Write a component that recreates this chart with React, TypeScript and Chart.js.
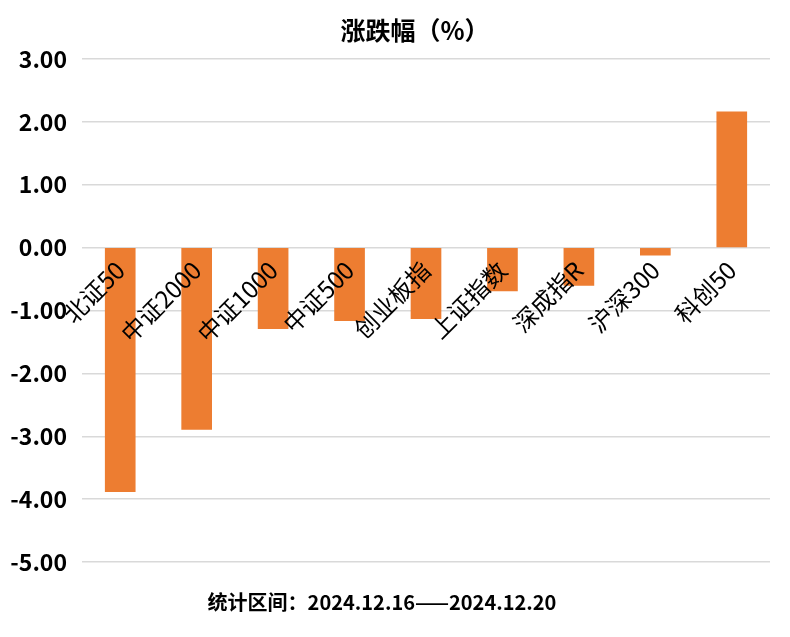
import React, { useEffect, useRef } from "react";
import { Chart, registerables } from "chart.js";

Chart.register(...registerables);

const categories = ["北证50", "中证2000", "中证1000", "中证500", "创业板指", "上证指数", "深成指R", "沪深300", "科创50"];
const changes = [-3.88, -2.89, -1.29, -1.16, -1.13, -0.69, -0.6, -0.12, 2.16];
const yMin = -5;
const yMax = 3;
const yStep = 1;
const titleText = "涨跌幅（%）";
const footnoteText = "统计区间：2024.12.16——2024.12.20";

const CJK_FONT = "'Noto Sans CJK SC', sans-serif";

const textPlugin = {
  id: "textPlugin",
  afterDraw(chart: any) {
    const ctx = chart.ctx;
    ctx.save();
    ctx.fillStyle = "#000";
    ctx.textAlign = "center";
    ctx.textBaseline = "middle";
    ctx.font = `bold 25px ${CJK_FONT}`;
    ctx.fillText(titleText, 407, 22);
    ctx.font = `bold 20px ${CJK_FONT}`;
    ctx.fillText(footnoteText, 374, 594);
    ctx.restore();
  },
};

export default function App() {
  const ref = useRef<HTMLCanvasElement | null>(null);
  useEffect(() => {
    if (!ref.current) return;
    const chart = new Chart(ref.current, {
      type: "bar",
      data: {
        labels: categories,
        datasets: [
          {
            data: changes,
            backgroundColor: "#ED7D31",
            barThickness: 30,
          },
        ],
      },
      options: {
        animation: false,
        responsive: false,
        layout: { padding: { top: 51, bottom: 67, left: 0, right: 12 } },
        plugins: {
          legend: { display: false },
          title: { display: false },
          tooltip: { enabled: false },
        },
        scales: {
          x: {
            position: { y: 0 } as any,
            grid: { display: false, drawTicks: false },
            border: { display: false },
            ticks: {
              z: 1,
              minRotation: 45,
              maxRotation: 45,
              autoSkip: false,
              padding: 8,
              color: "#000",
              font: { family: CJK_FONT, size: 24 },
            },
          },
          y: {
            min: yMin,
            max: yMax,
            afterFit: (s: any) => {
              s.width = 74;
            },
            grid: { color: "#D9D9D9", lineWidth: 1.5, drawTicks: false },
            border: { display: false },
            ticks: {
              stepSize: yStep,
              padding: 15,
              color: "#000",
              font: { family: CJK_FONT, size: 23, weight: "bold" },
              callback: (v: any) => Number(v).toFixed(2),
            },
          },
        },
      },
      plugins: [textPlugin],
    });
    return () => chart.destroy();
  }, []);
  return <canvas ref={ref} width={774} height={621} />;
}
